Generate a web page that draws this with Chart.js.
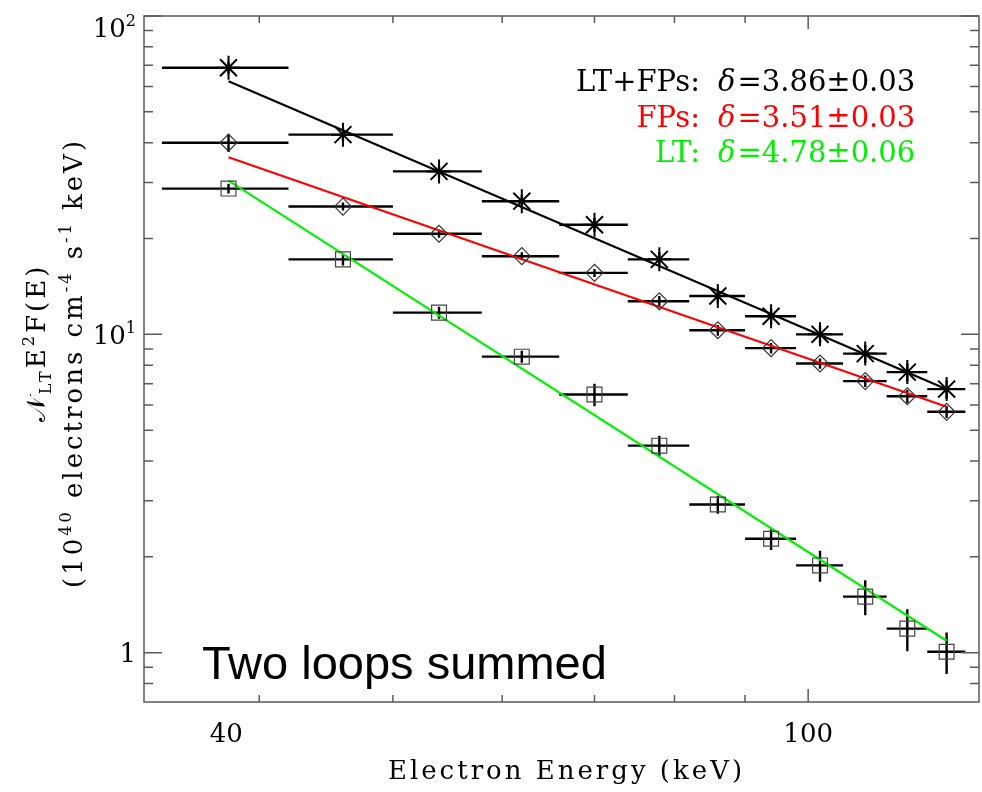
<!DOCTYPE html>
<html>
<head>
<meta charset="utf-8">
<script src="https://cdn.jsdelivr.net/npm/chart.js@4.4.0/dist/chart.umd.min.js"></script>
<style>
  html, body { margin: 0; padding: 0; background: #fff; }
  #spectrum { display: block; }
</style>
</head>
<body>
<canvas id="spectrum" width="982" height="792"></canvas>
<script>
// energy bins (keV)
const energyMid = [38, 46, 54, 62, 70, 78, 86, 94, 102, 110, 118, 126];
const energyLo  = [34, 42, 50, 58, 66, 74, 82, 90, 98, 106, 114, 122];
const energyHi  = [42, 50, 58, 66, 74, 82, 90, 98, 106, 114, 122, 130];

// N_LT E^2 F(E) in 10^40 electrons cm^-4 s^-1 keV
const totalFlux = [68.8, 42.4, 32.5, 26.2, 22.1, 17.2, 13.2, 11.4, 10.0, 8.70, 7.61, 6.73];
const totalErr  = [3.0, 1.9, 1.5, 1.2, 1.1, 0.9, 0.7, 0.65, 0.6, 0.55, 0.5, 0.45];
const fpFlux    = [40.0, 25.2, 20.7, 17.6, 15.6, 12.7, 10.3, 9.05, 8.10, 7.13, 6.39, 5.71];
const fpErr     = [2.6, 0.73, 0.6, 0.5, 0.45, 0.5, 0.4, 0.35, 0.3, 0.3, 0.3, 0.25];
const ltFlux    = [28.7, 17.2, 11.7, 8.51, 6.47, 4.47, 2.92, 2.28, 1.88, 1.50, 1.19, 1.007];
const ltErr     = [1.0, 0.75, 0.51, 0.37, 0.52, 0.33, 0.19, 0.18, 0.21, 0.19, 0.18, 0.15];

// power-law fits (end points)
const fitEnergy = [38, 126];
const totalFit  = [62.4, 6.72];
const fpFit     = [36.0, 5.92];
const ltFit     = [30.4, 1.09];

// fit results text
const fitNames    = ['LT+FPs:', 'FPs:', 'LT:'];
const fitDelta    = ['3.86', '3.51', '4.78'];
const fitDeltaErr = ['0.03', '0.03', '0.06'];
const fitColors   = ['#000000', '#ff0000', '#00f000'];

// axes
const xLabelTicks = [40, 100];
const xMajor = [100];
const xMinor = [40, 50, 60, 70, 80, 90];
const yMajor = [1, 10, 100];
const yLabelBase = ['1', '10', '10'];
const yLabelExp  = ['', '1', '2'];
const yMinor = [0.8, 0.9, 2, 3, 4, 5, 6, 7, 8, 9, 20, 30, 40, 50, 60, 70, 80, 90];

const SERIF = 'DejaVu Serif';
const AXIS = '#5a5a5a';

function pts(xs, ys) {
    return xs.map(function (x, i) { return { x: x, y: ys[i] }; });
}

// draws a run of text pieces (normal / sub / sup) on baseline y=0
function drawRuns(ctx, runs, x0, size, align) {
    var total = 0;
    runs.forEach(function (r) {
        var s = r.sub || r.sup ? size * 0.62 : size;
        ctx.font = s + 'px ' + SERIF;
        r.w = ctx.measureText(r.t).width;
        total += r.w;
    });
    var x = align === 'right' ? x0 - total : x0 - total / 2;
    runs.forEach(function (r) {
        var s = r.sub || r.sup ? size * 0.62 : size;
        ctx.font = s + 'px ' + SERIF;
        var dy = r.sub ? size * 0.22 : (r.sup ? -size * 0.42 : 0);
        ctx.fillText(r.t, x, dy);
        x += r.w;
    });
}

const errorBars = {
    id: 'errorBars',
    beforeDatasetsDraw(chart) {
        const ctx = chart.ctx, x = chart.scales.x, y = chart.scales.y;
        ctx.save();
        ctx.strokeStyle = '#000';
        ctx.lineWidth = 2.4;
        [[totalFlux, totalErr], [fpFlux, fpErr], [ltFlux, ltErr]].forEach(function (s) {
            s[0].forEach(function (v, i) {
                const py = y.getPixelForValue(v);
                const px = x.getPixelForValue(energyMid[i]);
                ctx.beginPath();
                ctx.moveTo(x.getPixelForValue(energyLo[i]), py);
                ctx.lineTo(x.getPixelForValue(energyHi[i]), py);
                ctx.moveTo(px, y.getPixelForValue(v - s[1][i]));
                ctx.lineTo(px, y.getPixelForValue(v + s[1][i]));
                ctx.stroke();
            });
        });
        ctx.restore();
    }
};

const frame = {
    id: 'frame',
    afterDraw(chart) {
        const ctx = chart.ctx, a = chart.chartArea, x = chart.scales.x, y = chart.scales.y;
        ctx.save();
        ctx.strokeStyle = AXIS;
        ctx.lineWidth = 1.5;
        ctx.strokeRect(a.left, a.top, a.right - a.left, a.bottom - a.top);
        ctx.beginPath();
        function xt(v, len) {
            const p = x.getPixelForValue(v);
            ctx.moveTo(p, a.bottom); ctx.lineTo(p, a.bottom - len);
            ctx.moveTo(p, a.top); ctx.lineTo(p, a.top + len);
        }
        function yt(v, len) {
            const p = y.getPixelForValue(v);
            ctx.moveTo(a.left, p); ctx.lineTo(a.left + len, p);
            ctx.moveTo(a.right, p); ctx.lineTo(a.right - len, p);
        }
        xMajor.forEach(function (v) { xt(v, 13); });
        xMinor.forEach(function (v) { xt(v, 7); });
        yMajor.forEach(function (v) { yt(v, 18); });
        yMinor.forEach(function (v) { yt(v, 9); });
        ctx.stroke();

        ctx.fillStyle = '#000';
        ctx.textBaseline = 'alphabetic';

        // y tick labels with real superscripts; the top one is kept below the frame edge
        yMajor.forEach(function (v, i) {
            const p = Math.max(y.getPixelForValue(v), a.top + 11);
            ctx.save();
            ctx.translate(0, p + 9.5);
            drawRuns(ctx, [{ t: yLabelBase[i] }, { t: yLabelExp[i], sup: true }], a.left - 8, 26, 'right');
            ctx.restore();
        });

        // fit results
        fitNames.forEach(function (name, i) {
            const by = a.top + 75 + 35.5 * i;
            ctx.fillStyle = fitColors[i];
            ctx.font = '29px ' + SERIF;
            ctx.textAlign = 'right';
            ctx.fillText(name, a.right - 279, by);
            ctx.textAlign = 'left';
            ctx.font = 'italic 29px ' + SERIF;
            ctx.fillText('\u03b4', a.right - 261, by);
            const dw = ctx.measureText('\u03b4').width;
            ctx.font = '29px ' + SERIF;
            ctx.fillText('=' + fitDelta[i] + '\u00b1' + fitDeltaErr[i], a.right - 261 + dw + 2, by);
        });

        // annotation
        ctx.fillStyle = '#000';
        ctx.font = '47px "Liberation Sans"';
        ctx.textAlign = 'left';
        ctx.fillText('Two loops summed', a.left + 58, a.bottom - 23);

        // x title
        ctx.letterSpacing = '3px';
        ctx.font = '26px ' + SERIF;
        ctx.textAlign = 'center';
        ctx.fillText('Electron Energy (keV)', (a.left + a.right) / 2 + 5, 779);

        // y title, two rotated lines
        ctx.textAlign = 'left';
        const cy = (a.top + a.bottom) / 2;
        ctx.save();
        ctx.translate(45, cy - 16);
        ctx.rotate(-Math.PI / 2);
        drawRuns(ctx, [{ t: '\ud835\udca9' }, { t: 'LT', sub: true }, { t: 'E' }, { t: '2', sup: true }, { t: 'F(E)' }], 0, 26);
        ctx.restore();
        ctx.save();
        ctx.translate(82, cy + 4);
        ctx.rotate(-Math.PI / 2);
        drawRuns(ctx, [{ t: '(10' }, { t: '40', sup: true }, { t: ' electrons cm' }, { t: '-4', sup: true },
            { t: ' s' }, { t: '-1', sup: true }, { t: ' keV)' }], 0, 26);
        ctx.restore();
        ctx.restore();
    }
};

Chart.defaults.font.family = SERIF;
Chart.defaults.color = '#000';

new Chart(document.getElementById('spectrum'), {
    type: 'scatter',
    data: {
        datasets: [{
            label: 'LT+FPs',
            data: pts(energyMid, totalFlux),
            pointStyle: 'star',
            pointRadius: 12,
            borderColor: '#000',
            backgroundColor: 'transparent',
            borderWidth: 2
        }, {
            label: 'FPs',
            data: pts(energyMid, fpFlux),
            pointStyle: 'rectRot',
            pointRadius: 8.5,
            borderColor: '#333',
            backgroundColor: 'transparent',
            borderWidth: 1.2
        }, {
            label: 'LT',
            data: pts(energyMid, ltFlux),
            pointStyle: 'rect',
            pointRadius: 10.5,
            borderColor: '#444',
            backgroundColor: 'transparent',
            borderWidth: 1.2
        }, {
            label: 'LT+FPs fit',
            data: pts(fitEnergy, totalFit),
            showLine: true, pointRadius: 0,
            borderColor: '#000', borderWidth: 2.2
        }, {
            label: 'FPs fit',
            data: pts(fitEnergy, fpFit),
            showLine: true, pointRadius: 0,
            borderColor: '#ff0000', borderWidth: 2.2
        }, {
            label: 'LT fit',
            data: pts(fitEnergy, ltFit),
            showLine: true, pointRadius: 0,
            borderColor: '#00f000', borderWidth: 2.2
        }]
    },
    options: {
        responsive: false,
        animation: false,
        events: [],
        layout: { autoPadding: false, padding: { top: 16, right: 3, left: 0, bottom: 0 } },
        plugins: { legend: { display: false }, tooltip: { enabled: false } },
        scales: {
            x: {
                type: 'logarithmic',
                min: 33, max: 133,
                grid: { display: false, drawTicks: false },
                border: { display: false },
                ticks: {
                    font: { size: 26 }, padding: 18, autoSkip: false, maxRotation: 0,
                    // the reference sets its "40" left of the tick
                    callback: function (v) { return v === 40 ? '40        ' : String(v); }
                },
                afterBuildTicks: function (s) { s.ticks = xLabelTicks.map(function (v) { return { value: v }; }); },
                afterFit: function (s) { s.height = 90; s.paddingLeft = 0; s.paddingRight = 0; }
            },
            y: {
                type: 'logarithmic',
                min: 0.7, max: 100,
                grid: { display: false, drawTicks: false },
                border: { display: false },
                ticks: { display: false },
                afterBuildTicks: function (s) { s.ticks = yMajor.map(function (v) { return { value: v }; }); },
                afterFit: function (s) { s.width = 144; s.paddingTop = 0; s.paddingBottom = 0; }
            }
        }
    },
    plugins: [errorBars, frame]
});
</script>
</body>
</html>
